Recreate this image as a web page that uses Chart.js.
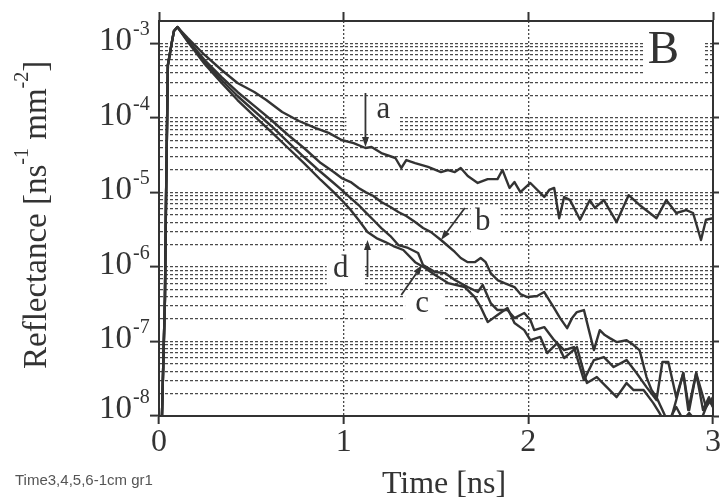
<!DOCTYPE html>
<html>
<head>
<meta charset="utf-8">
<script src="https://cdn.jsdelivr.net/npm/chart.js@4.4.1/dist/chart.umd.min.js"></script>
<style>
  html, body { margin: 0; padding: 0; background: #fff; }
  #wrap { width: 724px; height: 499px; position: relative; }
</style>
</head>
<body>
<div id="wrap"><canvas id="chart"></canvas></div>
<script>
// time [ns] and reflectance [ns^-1 mm^-2] of the four measured curves
const timeA = [0.016,0.032,0.038,0.048,0.07,0.081,0.1,0.13,0.156,0.247,0.339,0.425,0.516,0.581,0.667,0.758,0.849,0.919,0.989,1.054,1.118,1.151,1.204,1.28,1.312,1.339,1.387,1.457,1.527,1.565,1.602,1.634,1.672,1.726,1.78,1.833,1.86,1.898,1.925,1.957,2.011,2.086,2.113,2.14,2.167,2.194,2.226,2.28,2.333,2.36,2.409,2.478,2.543,2.602,2.694,2.747,2.801,2.855,2.892,2.935,2.962,3.0];
const reflA = [1e-8,3.6e-7,7.9e-6,5.1e-4,1.05e-3,1.47e-3,1.66e-3,1.38e-3,1.18e-3,7.0e-4,4.4e-4,2.94e-4,2.23e-4,1.74e-4,1.2e-4,9.1e-5,7.3e-5,6.3e-5,5.06e-5,4.6e-5,3.95e-5,4.07e-5,3.38e-5,2.9e-5,2.13e-5,2.72e-5,2.48e-5,2.2e-5,1.88e-5,2.0e-5,1.88e-5,2.13e-5,1.66e-5,1.34e-5,1.51e-5,1.51e-5,2.0e-5,1.15e-5,1.38e-5,1.01e-5,1.34e-5,8.7e-6,1.08e-5,1.15e-5,4.5e-6,8.7e-6,7.9e-6,4.3e-6,7.9e-6,6.2e-6,7.9e-6,4.0e-6,9.2e-6,6.8e-6,4.5e-6,7.9e-6,5.3e-6,5.8e-6,5.3e-6,2.3e-6,4.3e-6,4.5e-6];

const timeB = [0.016,0.032,0.038,0.048,0.07,0.081,0.1,0.156,0.247,0.339,0.425,0.516,0.608,0.699,0.785,0.876,0.946,0.989,1.038,1.081,1.118,1.161,1.204,1.253,1.296,1.339,1.387,1.43,1.473,1.527,1.565,1.602,1.634,1.672,1.71,1.742,1.769,1.796,1.833,1.871,1.925,1.957,1.995,2.048,2.086,2.113,2.14,2.172,2.21,2.237,2.263,2.301,2.328,2.355,2.387,2.414,2.441,2.478,2.532,2.57,2.602,2.64,2.667,2.694,2.731,2.763,2.801,2.839,2.866,2.909,2.946,2.978,3.0];
const reflB = [1e-8,3.6e-7,7.9e-6,5.1e-4,1.05e-3,1.47e-3,1.66e-3,1.11e-3,5.99e-4,3.54e-4,2.23e-4,1.45e-4,9.38e-5,5.9e-5,3.95e-5,2.48e-5,1.88e-5,1.56e-5,1.38e-5,1.15e-5,1.01e-5,8.95e-6,7.43e-6,6.37e-6,5.46e-6,4.83e-6,4.01e-6,3.33e-6,2.94e-6,2.3e-6,1.91e-6,1.59e-6,1.32e-6,1.16e-6,1.16e-6,1.32e-6,1.16e-6,8.28e-7,6.68e-7,6.08e-7,5.38e-7,4.33e-7,3.95e-7,4.07e-7,4.61e-7,3.6e-7,2.81e-7,2.06e-7,1.51e-7,2.06e-7,2.48e-7,2.64e-7,1.42e-7,7.67e-8,1.42e-7,1.22e-7,1.11e-7,9.82e-8,1.04e-7,8.95e-8,7.67e-8,3.33e-8,2.23e-8,1.79e-8,1.13e-8,7.55e-9,1.64e-8,3.77e-8,1.2e-8,3.77e-8,1.2e-8,1.79e-8,1.32e-8];

const timeC = [0.016,0.032,0.038,0.048,0.07,0.081,0.1,0.156,0.247,0.339,0.425,0.516,0.608,0.699,0.785,0.876,0.946,0.989,1.038,1.081,1.118,1.161,1.204,1.253,1.296,1.349,1.403,1.43,1.495,1.548,1.602,1.672,1.726,1.753,1.796,1.833,1.887,1.925,1.978,2.011,2.032,2.086,2.14,2.194,2.247,2.301,2.355,2.409,2.462,2.532,2.586,2.64,2.694,2.726,2.758,2.801,2.839,2.871,2.909,2.962,3.0];
const reflC = [1e-8,3.6e-7,7.9e-6,5.1e-4,1.05e-3,1.47e-3,1.66e-3,1.08e-3,5.63e-4,3.23e-4,1.97e-4,1.24e-4,7.8e-5,4.75e-5,2.99e-5,1.88e-5,1.34e-5,1.08e-5,8.42e-6,6.78e-6,5.46e-6,4.27e-6,3.33e-6,2.6e-6,1.97e-6,1.8e-6,1.54e-6,1.06e-6,8.55e-7,8.28e-7,6.68e-7,5.38e-7,4.61e-7,5.72e-7,3.28e-7,2.64e-7,2.64e-7,2.06e-7,2.41e-7,1.94e-7,1.42e-7,1.56e-7,1.04e-7,7.67e-8,8.41e-8,3.03e-8,5.63e-8,6.18e-8,4.54e-8,5.63e-8,3.77e-8,2.44e-8,1.64e-8,5.3e-8,5.3e-8,1.79e-8,3.77e-8,1.2e-8,3.77e-8,1.32e-8,1.79e-8];

const timeD = [0.016,0.032,0.038,0.048,0.07,0.081,0.1,0.156,0.247,0.339,0.425,0.516,0.608,0.699,0.785,0.876,0.946,0.989,1.038,1.081,1.129,1.177,1.226,1.269,1.323,1.387,1.441,1.495,1.565,1.656,1.71,1.742,1.78,1.833,1.887,1.925,1.978,2.011,2.065,2.102,2.156,2.194,2.263,2.317,2.371,2.441,2.478,2.532,2.57,2.624,2.677,2.71,2.747,2.801,2.839,2.871,2.925,2.978,3.0];
const reflD = [1e-8,3.6e-7,7.9e-6,5.1e-4,1.05e-3,1.47e-3,1.66e-3,1.05e-3,5.3e-4,2.94e-4,1.74e-4,1.06e-4,6.48e-5,3.95e-5,2.48e-5,1.47e-5,1.01e-5,7.91e-6,5.81e-6,4.27e-6,2.94e-6,2.44e-6,2.16e-6,1.91e-6,1.69e-6,1.16e-6,9.67e-7,7.79e-7,6.08e-7,5.38e-7,3.95e-7,2.9e-7,1.82e-7,2.26e-7,2.81e-7,1.77e-7,1.42e-7,1.04e-7,1.15e-7,7.0e-8,9.53e-8,5.99e-8,8.41e-8,2.77e-8,3.33e-8,2.23e-8,1.79e-8,2.77e-8,2.23e-8,2.23e-8,1.49e-8,1.1e-8,7.55e-9,1.32e-8,8.8e-9,1.1e-8,7.55e-9,1.64e-8,1.32e-8];

const curveNames = ['a', 'b', 'c', 'd'];

// axes
const xTicks = [0, 1, 2, 3];
const yDecades = [1e-8, 1e-7, 1e-6, 1e-5, 1e-4, 1e-3];
const yMin = 1e-8;
const yMax = 2e-3;

// curve labels and the panel letter (anchored at the text baseline)
const labelText = ['a', 'b', 'c', 'd', 'B'];
const labelTime = [1.215, 1.753, 1.425, 0.984, 2.731];
const labelRefl = [9.98e-5, 3.13e-6, 2.48e-7, 7.33e-7, 5.46e-4];

// arrows from each letter to its curve
const arrowFromTime = [1.118, 1.656, 1.312, 1.129];
const arrowFromRefl = [2.16e-4, 6.18e-6, 4.2e-7, 7.33e-7];
const arrowToTime = [1.118, 1.527, 1.425, 1.129];
const arrowToRefl = [4.07e-5, 2.3e-6, 1.06e-6, 2.3e-6];

const serif = '"Liberation Serif", "Times New Roman", serif';
const ink = '#333';
const gridInk = '#4a4a4a';

function isDecade(v) {
  const e = Math.log10(v);
  return Math.abs(e - Math.round(e)) < 1e-6;
}

// 1..9 x 10^n grid lines for the log axis
const yGrid = [];
yDecades.slice(0, -1).forEach(dec => {
  for (let k = 1; k <= 9; k++) yGrid.push(k * dec);
});
yGrid.push(yDecades[yDecades.length - 1]);

const curves = [[timeA, reflA], [timeB, reflB], [timeC, reflC], [timeD, reflD]];
const datasets = curves.map(([t, r], i) => ({
  label: curveNames[i],
  data: t.map((x, j) => ({x: x, y: r[j]})),
  borderColor: ink,
  borderWidth: 2.4,
  borderJoinStyle: 'round',
  pointRadius: 0,
  tension: 0,
  fill: false
}));

// white patches behind the letters: [left, top, right, bottom] around the anchor
const labelClear = {
  a: [-37, -21, 15, 15],
  b: [-12, -24, 18, 5],
  c: [-17, -22, 23, 9],
  d: [-14, -25, 23, 12],
  B: [-20, -37, 40, 15]
};
const labelSize = {a: 31, b: 31, c: 31, d: 31, B: 47};

const overlay = {
  id: 'overlay',
  beforeDatasetsDraw(chart) {
    const {ctx, scales: {x, y}} = chart;
    ctx.save();
    ctx.fillStyle = '#fff';
    labelText.forEach((txt, i) => {
      const px = x.getPixelForValue(labelTime[i]);
      const py = y.getPixelForValue(labelRefl[i]);
      const [l, t, r, b] = labelClear[txt];
      ctx.fillRect(px + l, py + t, r - l, b - t);
    });
    ctx.restore();
  },
  afterDatasetsDraw(chart) {
    const {ctx, scales: {x, y}} = chart;
    ctx.save();
    ctx.strokeStyle = ink;
    ctx.fillStyle = ink;
    ctx.lineWidth = 1.8;
    arrowFromTime.forEach((_, i) => {
      const x0 = x.getPixelForValue(arrowFromTime[i]);
      const y0 = y.getPixelForValue(arrowFromRefl[i]);
      const x1 = x.getPixelForValue(arrowToTime[i]);
      const y1 = y.getPixelForValue(arrowToRefl[i]);
      const ang = Math.atan2(y1 - y0, x1 - x0);
      const len = 10, half = 3.5;
      const bx = x1 - len * Math.cos(ang);
      const by = y1 - len * Math.sin(ang);
      ctx.beginPath();
      ctx.moveTo(x0, y0);
      ctx.lineTo(bx, by);
      ctx.stroke();
      ctx.beginPath();
      ctx.moveTo(x1, y1);
      ctx.lineTo(bx + half * Math.sin(ang), by - half * Math.cos(ang));
      ctx.lineTo(bx - half * Math.sin(ang), by + half * Math.cos(ang));
      ctx.closePath();
      ctx.fill();
    });
    ctx.textAlign = 'center';
    ctx.textBaseline = 'alphabetic';
    labelText.forEach((txt, i) => {
      ctx.font = labelSize[txt] + 'px ' + serif;
      ctx.fillText(txt, x.getPixelForValue(labelTime[i]), y.getPixelForValue(labelRefl[i]));
    });
    ctx.restore();
  },
  afterDraw(chart) {
    const {ctx, scales: {y}} = chart;
    ctx.save();
    ctx.fillStyle = ink;
    ctx.textBaseline = 'alphabetic';
    // decade labels 10^n on the left axis
    yDecades.forEach((dec, i) => {
      const py = y.getPixelForValue(dec);
      const base = py + (i === 0 ? 2 : 7);
      ctx.font = '33px ' + serif;
      ctx.textAlign = 'right';
      ctx.fillText('10', 132, base);
      ctx.font = '20px ' + serif;
      ctx.textAlign = 'left';
      ctx.fillText('-' + Math.round(-Math.log10(dec)), 133, base - 15);
    });
    // rotated axis title with superscript units
    ctx.translate(46, 369);
    ctx.rotate(-Math.PI / 2);
    ctx.textAlign = 'left';
    let cx = 0;
    [['Reflectance [ns', false], ['-1', true], [' mm', false], ['-2', true], [']', false]].forEach(([s, sup]) => {
      ctx.font = (sup ? '20px ' : '33px ') + serif;
      ctx.fillText(s, cx, sup ? -18 : 0);
      cx += ctx.measureText(s).width;
    });
    ctx.restore();

    ctx.save();
    ctx.fillStyle = ink;
    ctx.textAlign = 'center';
    ctx.font = '32px ' + serif;
    ctx.fillText('Time [ns]', 444, 493);
    ctx.fillStyle = '#555';
    ctx.font = '15px "Liberation Sans", Arial, sans-serif';
    ctx.textAlign = 'left';
    ctx.fillText('Time3,4,5,6-1cm gr1', 15, 485);
    ctx.restore();
  }
};

new Chart(document.getElementById('chart'), {
  type: 'line',
  data: {datasets: datasets},
  plugins: [overlay],
  options: {
    responsive: true,
    maintainAspectRatio: false,
    animation: false,
    layout: {padding: 0},
    plugins: {legend: {display: false}, tooltip: {enabled: false}},
    scales: {
      x: {
        type: 'linear',
        position: 'bottom',
        min: 0,
        max: 3,
        afterBuildTicks: s => { s.ticks = xTicks.map(v => ({value: v})); },
        afterFit: s => { s.height = 83; },
        ticks: {
          autoSkip: false,
          maxRotation: 0,
          color: ink,
          padding: 3,
          font: {family: serif, size: 32, lineHeight: 1},
          callback: v => String(v)
        },
        grid: {
          color: c => (c.tick && c.tick.value > 0 && c.tick.value < 3) ? gridInk : 'transparent',
          lineWidth: 1.3,
          tickLength: 8,
          tickColor: ink,
          tickWidth: 2
        },
        border: {color: ink, width: 2, dash: [2, 2]}
      },
      xTop: {
        type: 'linear',
        position: 'top',
        min: 0,
        max: 3,
        afterBuildTicks: s => { s.ticks = xTicks.map(v => ({value: v})); },
        afterFit: s => { s.height = 21; },
        ticks: {display: false},
        grid: {drawOnChartArea: false, tickLength: 9, tickColor: ink, tickWidth: 2},
        border: {color: ink, width: 2}
      },
      y: {
        type: 'logarithmic',
        position: 'left',
        min: yMin,
        max: yMax,
        afterBuildTicks: s => { s.ticks = yGrid.map(v => ({value: v})); },
        afterFit: s => { s.width = 159; },
        ticks: {display: false, callback: () => ''},
        grid: {
          color: gridInk,
          lineWidth: 1.2,
          tickLength: 9,
          tickColor: c => (c.tick && isDecade(c.tick.value)) ? ink : 'transparent',
          tickWidth: 2
        },
        border: {color: ink, width: 2, dash: [3, 2]}
      },
      yRight: {
        type: 'logarithmic',
        position: 'right',
        min: yMin,
        max: yMax,
        afterBuildTicks: s => { s.ticks = yDecades.map(v => ({value: v})); },
        afterFit: s => { s.width = 7; },
        ticks: {display: false, callback: () => ''},
        grid: {drawOnChartArea: false, tickLength: 6, tickColor: ink, tickWidth: 2},
        border: {color: ink, width: 2}
      }
    }
  }
});
</script>
</body>
</html>
